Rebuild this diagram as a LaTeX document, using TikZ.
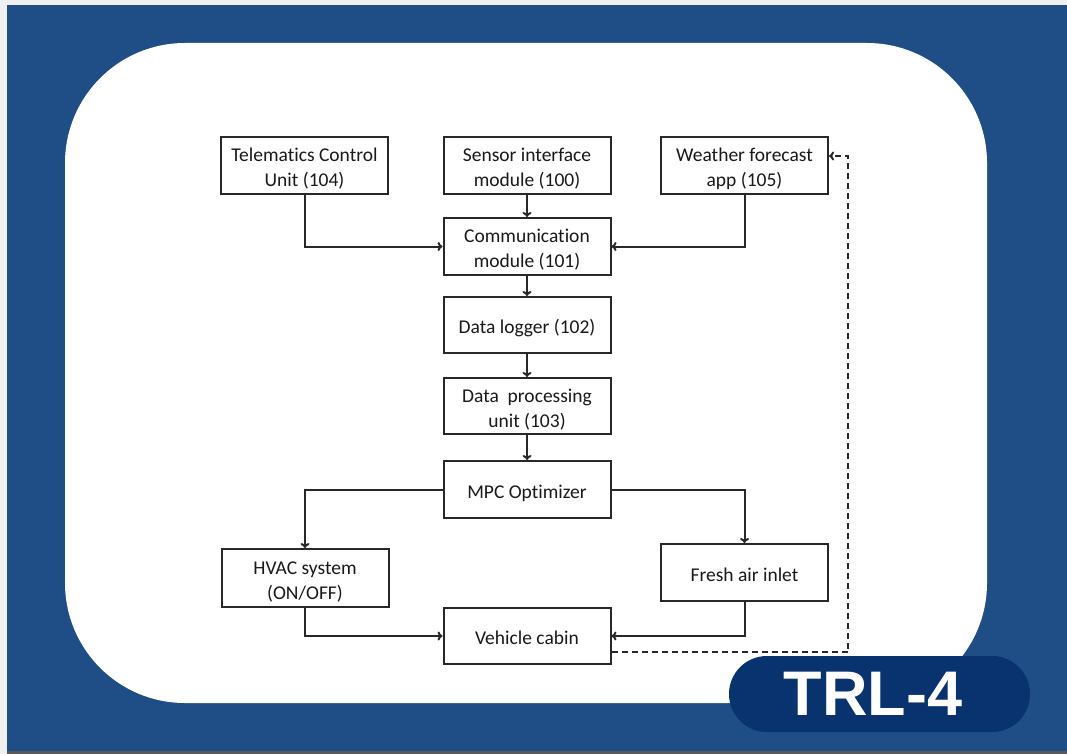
\documentclass[tikz,border=0pt]{standalone}
\usepackage{fontspec}
\setmainfont{Carlito}[Ligatures={NoCommon}]
\newfontfamily\badgefont{Liberation Sans}
\usetikzlibrary{arrows.meta}
\definecolor{bgblue}{RGB}{31,78,135}
\definecolor{badgeblue}{RGB}{8,51,111}
\definecolor{strip}{RGB}{240,240,240}
\definecolor{linec}{RGB}{40,40,40}
\definecolor{textc}{RGB}{25,25,25}
\newcommand{\btxt}[1]{\raisebox{-3.5pt}[\height][\depth]{\begin{tabular}{@{}c@{}}#1\end{tabular}}}
\tikzset{
  box/.style={draw=linec, line width=2pt, fill=white, minimum width=167pt, minimum height=57pt,
    inner sep=2pt, align=center, text=textc, font=\fontsize{19.5}{25}\selectfont},
  arr/.style={draw=linec, line width=2pt, -{To[length=5pt,width=9pt]}},
  dsh/.style={arr, dash pattern=on 6pt off 4pt}
}
\begin{document}
\begin{tikzpicture}[x=1pt,y=-1pt]
\useasboundingbox (0,0) rectangle (1067,754);
\fill[strip] (0,0) rectangle (1067,754);
\fill[bgblue] (7,5) rectangle (1067,751);
\fill[gray!70!black] (7,751) rectangle (1067,754);
\fill[white, rounded corners=120pt] (65,43) rectangle (987,703);

\node[box] (tcu) at (304.5,165.5) {\btxt{Telematics Control\\Unit (104)}};
\node[box] (sim) at (527,165.5) {\btxt{Sensor interface\\module (100)}};
\node[box] (wfa) at (744.5,165.5) {\btxt{Weather forecast\\app (105)}};
\node[box] (com) at (527,246.5) {\btxt{Communication\\module (101)}};
\node[box, minimum height=56pt] (dl) at (527,325) {\btxt{Data logger (102)}};
\node[box, minimum height=56pt] (dpu) at (527,406) {\btxt{Data\ \ processing\\unit (103)}};
\node[box] (mpc) at (527,489.5) {\btxt{MPC Optimizer}};
\node[box, minimum height=58pt] (hvac) at (305,578) {\btxt{HVAC system\\(ON/OFF)}};
\node[box] (fai) at (744.5,572.5) {\btxt{Fresh air inlet}};
\node[box, minimum height=56pt] (cab) at (527,636) {\btxt{Vehicle cabin}};

\draw[arr] (tcu.south) |- (com.west);
\draw[arr] (sim) -- (com);
\draw[arr] (wfa.south) |- (com.east);
\draw[arr] (com) -- (dl);
\draw[arr] (dl) -- (dpu);
\draw[arr] (dpu) -- (mpc);
\draw[arr] (mpc.west) -| (hvac.north);
\draw[arr] (mpc.east) -| (fai.north);
\draw[arr] (hvac.south) |- (cab.west);
\draw[arr] (fai.south) |- (cab.east);

\coordinate (d1) at (848,652);
\coordinate (d2) at (848,156);
\draw[dsh] (cab.east |- d1) -- (d1) -- (d2) -- (wfa.east |- d2);

\node[fill=badgeblue, rounded corners=37.9pt, minimum width=301pt, minimum height=76pt, inner sep=0pt] (badge) at (879.5,694) {};
\node[text=white, font=\badgefont\bfseries\fontsize{63}{63}\selectfont, inner sep=0pt] (trl) at (873,694) {TRL-4};
\end{tikzpicture}
\end{document}
